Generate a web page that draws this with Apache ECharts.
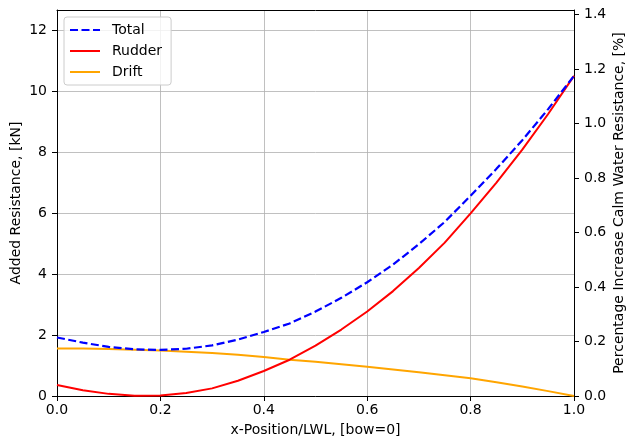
<!DOCTYPE html>
<html>
<head>
<meta charset="utf-8">
<script src="https://cdn.jsdelivr.net/npm/echarts@6/dist/echarts.min.js"></script>
<style>
  html, body { margin: 0; padding: 0; background: #fff; }
  #chart { width: 633px; height: 441px; }
</style>
</head>
<body>
<div id="chart"></div>
<script>
// x-Position/LWL
var xPos = [0, 0.05, 0.1, 0.15, 0.2, 0.25, 0.3, 0.35, 0.4, 0.45, 0.5,
  0.55, 0.6, 0.65, 0.7, 0.75, 0.8, 0.85, 0.9, 0.95, 1.0];
// added resistance [kN]
var rudder = [0.36, 0.19, 0.07, 0.01, 0.02, 0.10, 0.25, 0.50, 0.82, 1.19, 1.65,
  2.18, 2.77, 3.44, 4.20, 5.03, 5.99, 7.00, 8.08, 9.25, 10.50];
var drift = [1.56, 1.56, 1.54, 1.52, 1.49, 1.45, 1.41, 1.35, 1.28, 1.19, 1.12,
  1.04, 0.96, 0.87, 0.78, 0.68, 0.58, 0.45, 0.31, 0.16, 0.0];
var total = [1.92, 1.75, 1.61, 1.53, 1.51, 1.55, 1.66, 1.85, 2.10, 2.38, 2.77,
  3.22, 3.73, 4.31, 4.98, 5.71, 6.57, 7.45, 8.39, 9.41, 10.50];
// tick labels
var leftTicks = [0, 2, 4, 6, 8, 10, 12];
var rightTicks = [0, 0.2, 0.4, 0.6, 0.8, 1.0, 1.2, 1.4];

function pairs(ys) {
  return xPos.map(function (x, i) { return [x, ys[i]]; });
}

var chart = echarts.init(document.getElementById('chart'), null, { renderer: 'canvas' });
var font = 'DejaVu Sans';
var labelStyle = { color: '#000', fontSize: 14, fontFamily: font };

function ticks(values) {
  var t = { show: true, inside: false, length: 5, lineStyle: { color: '#000', width: 1 } };
  if (values) t.customValues = values;
  return t;
}

var option = {
  animation: false,
  backgroundColor: '#fff',
  grid: { left: 57, right: 59, top: 10, bottom: 45, containLabel: false, outerBoundsMode: 'none' },
  legend: {
    left: 64, top: 17,
    orient: 'vertical',
    itemWidth: 30, itemHeight: 14, itemGap: 7,
    padding: [6, 9, 6, 5],
    backgroundColor: 'rgba(255,255,255,0.8)',
    borderColor: '#cccccc', borderWidth: 1, borderRadius: 3,
    itemStyle: { opacity: 0 },
    textStyle: { color: '#000', fontSize: 14, fontFamily: font, padding: [0, 0, 0, 7] },
    data: ['Total', 'Rudder', 'Drift']
  },
  xAxis: [{
    type: 'value', min: 0, max: 1, interval: 0.2, position: 'bottom',
    name: 'x-Position/LWL, [bow=0]', nameLocation: 'middle', nameGap: 27, nameMoveOverlap: false,
    nameTextStyle: labelStyle,
    axisLine: { show: true, onZero: false, lineStyle: { color: '#000', width: 1 } },
    axisTick: ticks(),
    axisLabel: Object.assign({ margin: 7, formatter: function (v) { return v.toFixed(1); } }, labelStyle),
    splitLine: { show: true, lineStyle: { color: '#b0b0b0', width: 0.8 } }
  }, {
    type: 'value', min: 0, max: 1, position: 'top',
    axisLine: { show: true, onZero: false, lineStyle: { color: '#000', width: 1 } },
    axisTick: { show: false }, axisLabel: { show: false }, splitLine: { show: false }
  }],
  yAxis: [{
    type: 'value', min: 0, max: 12.66, interval: 2, position: 'left',
    name: 'Added Resistance, [kN]', nameLocation: 'middle', nameGap: 34, nameRotate: 90,
    nameMoveOverlap: false,
    nameTextStyle: labelStyle,
    axisLine: { show: true, onZero: false, lineStyle: { color: '#000', width: 1 } },
    axisTick: ticks(leftTicks),
    axisLabel: Object.assign({ margin: 10, customValues: leftTicks }, labelStyle),
    splitLine: { show: true, lineStyle: { color: '#b0b0b0', width: 0.8 } }
  }, {
    type: 'value', min: 0, max: 1.4165, interval: 0.2, position: 'right',
    name: 'Percentage Increase Calm Water Resistance, [%]', nameLocation: 'middle',
    nameGap: 38, nameRotate: 90, nameMoveOverlap: false,
    nameTextStyle: labelStyle,
    axisLine: { show: true, onZero: false, lineStyle: { color: '#000', width: 1 } },
    axisTick: ticks(rightTicks),
    axisLabel: Object.assign({ margin: 10, customValues: rightTicks,
      formatter: function (v) { return v.toFixed(1); } }, labelStyle),
    splitLine: { show: false }
  }],
  series: [{
    name: 'Total', type: 'line', showSymbol: false, symbol: 'none',
    data: pairs(total), z: 4,
    lineStyle: { color: '#0000ff', width: 2.2, type: [8, 3.5] },
    itemStyle: { color: '#0000ff' }
  }, {
    name: 'Rudder', type: 'line', showSymbol: false, symbol: 'none',
    data: pairs(rudder), z: 3,
    lineStyle: { color: '#ff0000', width: 2 },
    itemStyle: { color: '#ff0000' }
  }, {
    name: 'Drift', type: 'line', showSymbol: false, symbol: 'none',
    data: pairs(drift), z: 2,
    lineStyle: { color: '#ffa500', width: 2 },
    itemStyle: { color: '#ffa500' }
  }]
};

chart.setOption(option);
</script>
</body>
</html>
